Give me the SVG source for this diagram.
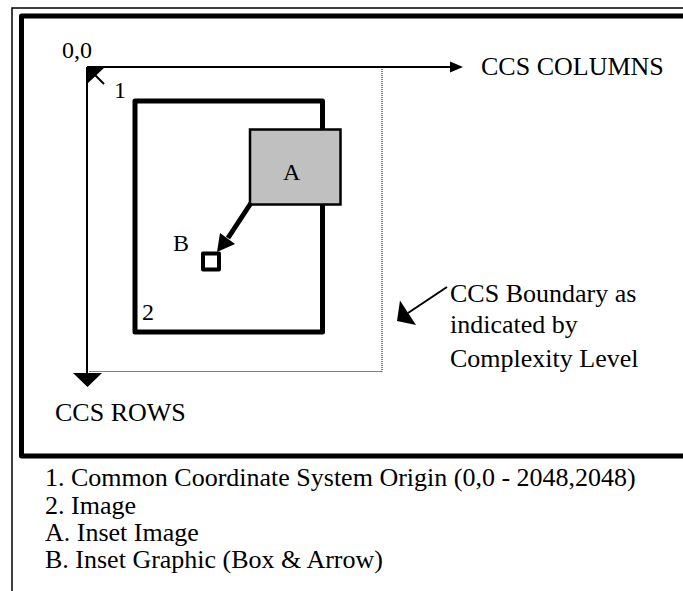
<svg xmlns="http://www.w3.org/2000/svg" width="683" height="591" viewBox="0 0 683 591">
<style>
text{font-family:"Liberation Serif","Times New Roman",serif;fill:#000;font-size:26px}
.lbl{font-size:24px}
.thick{fill:none;stroke:#000;stroke-width:5;stroke-linejoin:round}
.thin{fill:none;stroke:#000;stroke-width:1.5}
.dot{fill:none;stroke:#000;stroke-width:1;stroke-dasharray:1,1}
</style>
<rect width="683" height="591" fill="#fff"/>
<g id="frame">
<polyline class="thin" points="12,591 12,8 683,8"/>
<polyline class="thick" points="690,16 21.5,16 21.5,456 690,456"/>
</g>
<g id="boundary">
<polyline class="dot" points="382,67 382,371.5 89,371.5"/>
</g>
<g id="image">
<rect class="thick" x="135" y="101" width="187.5" height="231"/>
<text class="lbl" x="142" y="320">2</text>
</g>
<g id="inset-a">
<rect x="250" y="129.5" width="90.5" height="75" fill="#c0c0c0" stroke="#000" stroke-width="2.5"/>
<text class="lbl" x="283" y="180">A</text>
</g>
<g id="inset-b">
<rect x="203" y="253.5" width="16" height="16" fill="#fff" stroke="#000" stroke-width="4" stroke-linejoin="round"/>
<text class="lbl" x="173" y="251">B</text>
</g>
<g id="connectors">
<line x1="87" y1="67" x2="450" y2="67" stroke="#000" stroke-width="2"/>
<polygon points="450,61.5 463,67 450,72.5" fill="#000"/>
<line x1="87" y1="67" x2="87" y2="374" stroke="#000" stroke-width="2"/>
<polygon points="73,373 102,373 87.5,387" fill="#000"/>
<line x1="95" y1="75" x2="104" y2="84" stroke="#000" stroke-width="2"/>
<polygon points="87,67 105,67 87,84" fill="#000"/>
<line x1="251" y1="203" x2="228" y2="238" stroke="#000" stroke-width="5"/>
<polygon points="217,252 220,233 235,244" fill="#000"/>
<line x1="447" y1="287" x2="408" y2="313" stroke="#000" stroke-width="2"/>
<polygon points="397,321 400,300.5 416,325" fill="#000"/>
</g>
<g id="labels">
<text class="lbl" x="62" y="58">0,0</text>
<text class="lbl" x="114" y="98">1</text>
<text x="481" y="75">CCS COLUMNS</text>
<text x="55" y="421">CCS ROWS</text>
<text x="450" y="302">CCS Boundary as</text>
<text x="450" y="333">indicated by</text>
<text x="450" y="367">Complexity Level</text>
</g>
<g id="legend">
<text x="45" y="486">1. Common Coordinate System Origin (0,0 - 2048,2048)</text>
<text x="45" y="514">2. Image</text>
<text x="45" y="541">A. Inset Image</text>
<text x="45" y="568">B. Inset Graphic (Box &amp; Arrow)</text>
</g>
</svg>
